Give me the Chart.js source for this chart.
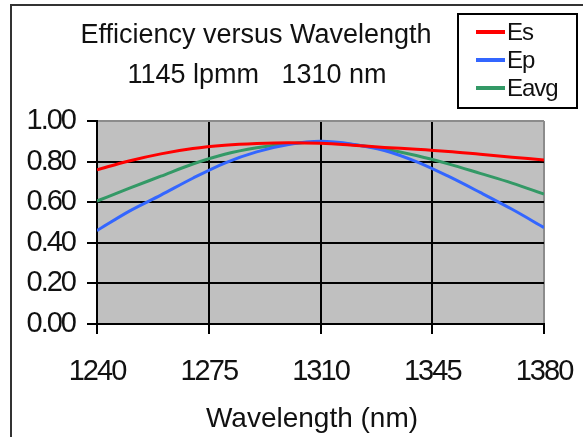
<!DOCTYPE html>
<html><head><meta charset="utf-8">
<script src="https://cdn.jsdelivr.net/npm/chart.js@4"></script>
<style>html,body{margin:0;padding:0;background:#fff;}#wrap{width:583px;height:437px;position:relative;overflow:hidden}</style>
</head><body><div id="wrap"><canvas id="c" width="583" height="437"></canvas></div>
<script>
const titleLines = ['Efficiency versus Wavelength', '1145 lpmm   1310 nm'];
const xAxisTitle = 'Wavelength (nm)';
const seriesNames = ['Es', 'Ep', 'Eavg'];
const wavelengths = [1240, 1250, 1260, 1270, 1280, 1290, 1300, 1310, 1320, 1330, 1340, 1350, 1360, 1370, 1380];
const es   = [0.760, 0.803, 0.838, 0.864, 0.880, 0.889, 0.893, 0.890, 0.881, 0.870, 0.861, 0.850, 0.836, 0.822, 0.808];
const ep   = [0.460, 0.555, 0.635, 0.718, 0.793, 0.848, 0.884, 0.900, 0.886, 0.855, 0.800, 0.728, 0.648, 0.565, 0.475];
const eavg = [0.606, 0.668, 0.728, 0.788, 0.836, 0.868, 0.888, 0.895, 0.884, 0.862, 0.830, 0.789, 0.742, 0.694, 0.640];
const xTickValues = [1240, 1275, 1310, 1345, 1380];
const yTickValues = [0, 0.2, 0.4, 0.6, 0.8, 1.0];

const FONT = '"Liberation Sans", Arial, sans-serif';
const colors = ['#ff0000', '#3366ff', '#339966'];
const seriesValues = [es, ep, eavg];

const decor = {
  id: 'decor',
  beforeUpdate(chart) { chart.ctx.letterSpacing = '-2px'; },
  beforeDraw(chart) {
    const ctx = chart.ctx, a = chart.chartArea;
    ctx.save();
    ctx.fillStyle = '#ffffff';
    ctx.fillRect(0, 0, chart.width, chart.height);
    ctx.strokeStyle = '#333333';
    ctx.lineWidth = 2;
    ctx.strokeRect(11, 5, 700, 600);
    ctx.fillStyle = '#c0c0c0';
    ctx.fillRect(a.left, a.top, a.right - a.left, a.bottom - a.top);
    ctx.restore();
    ctx.letterSpacing = '-2px';
  },
  afterDraw(chart) {
    const ctx = chart.ctx;
    ctx.save();
    ctx.letterSpacing = '0px';
    ctx.fillStyle = '#111111';
    ctx.textAlign = 'center';
    ctx.textBaseline = 'alphabetic';
    ctx.font = '27px ' + FONT;
    ctx.fillText(titleLines[0], 256, 43);
    ctx.fillText(titleLines[1], 257, 83);
    // x axis title
    ctx.font = '28px ' + FONT;
    ctx.fillText(xAxisTitle, 312, 427);
    // legend
    ctx.strokeStyle = '#000000';
    ctx.lineWidth = 2;
    ctx.strokeRect(458, 14, 119, 94);
    ctx.font = '24px ' + FONT;
    ctx.textAlign = 'left';
    ctx.letterSpacing = '-1px';
    chart.data.datasets.forEach((ds, i) => {
      const y = 32 + i * 28;
      ctx.strokeStyle = ds.borderColor;
      ctx.lineWidth = 4;
      ctx.beginPath();
      ctx.moveTo(476, y);
      ctx.lineTo(505, y);
      ctx.stroke();
      ctx.fillStyle = '#111111';
      ctx.fillText(ds.label, 507, y + 8);
    });
    ctx.restore();
  }
};

new Chart(document.getElementById('c'), {
  type: 'line',
  data: {
    datasets: seriesNames.map((name, i) => ({
      label: name,
      data: wavelengths.map((w, j) => ({ x: w, y: seriesValues[i][j] })),
      borderColor: colors[i],
      backgroundColor: colors[i],
      borderWidth: 3,
      pointRadius: 0,
      cubicInterpolationMode: 'monotone',
      fill: false
    }))
  },
  options: {
    responsive: false,
    animation: false,
    devicePixelRatio: 1,
    layout: { padding: { left: 0, top: 121, right: 39, bottom: 0 } },
    plugins: { legend: { display: false }, title: { display: false }, tooltip: { enabled: false } },
    scales: {
      x: {
        type: 'linear',
        min: xTickValues[0],
        max: xTickValues[xTickValues.length - 1],
        afterBuildTicks(scale) { scale.ticks = xTickValues.map(v => ({ value: v })); },
        afterFit(scale) { scale.height = 113; scale.paddingLeft = 0; scale.paddingRight = 0; },
        ticks: {
          color: '#111111',
          font: { family: FONT, size: 29 },
          padding: 21,
          maxRotation: 0,
          autoSkip: false,
          callback: v => String(v)
        },
        grid: {
          color: c => (c.tick && c.tick.value === 1380) ? '#8c8c8c' : '#000000',
          lineWidth: 2,
          tickLength: 10,
          tickColor: '#000000',
          tickWidth: 2
        },
        border: { color: '#000000', width: 2 },
        title: { display: false, text: xAxisTitle }
      },
      y: {
        min: 0,
        max: 1,
        afterBuildTicks(scale) { scale.ticks = yTickValues.map(v => ({ value: v })); },
        afterFit(scale) { scale.width = 97; scale.paddingTop = 0; scale.paddingBottom = 0; },
        ticks: {
          color: '#111111',
          font: { family: FONT, size: 29 },
          padding: 12,
          autoSkip: false,
          callback: v => Number(v).toFixed(2)
        },
        grid: {
          color: c => (c.tick && c.tick.value === 1) ? '#8c8c8c' : '#000000',
          lineWidth: 2,
          tickLength: 10,
          tickColor: '#000000',
          tickWidth: 2
        },
        border: { color: '#000000', width: 2 }
      }
    }
  },
  plugins: [decor]
});
</script>
</body></html>
